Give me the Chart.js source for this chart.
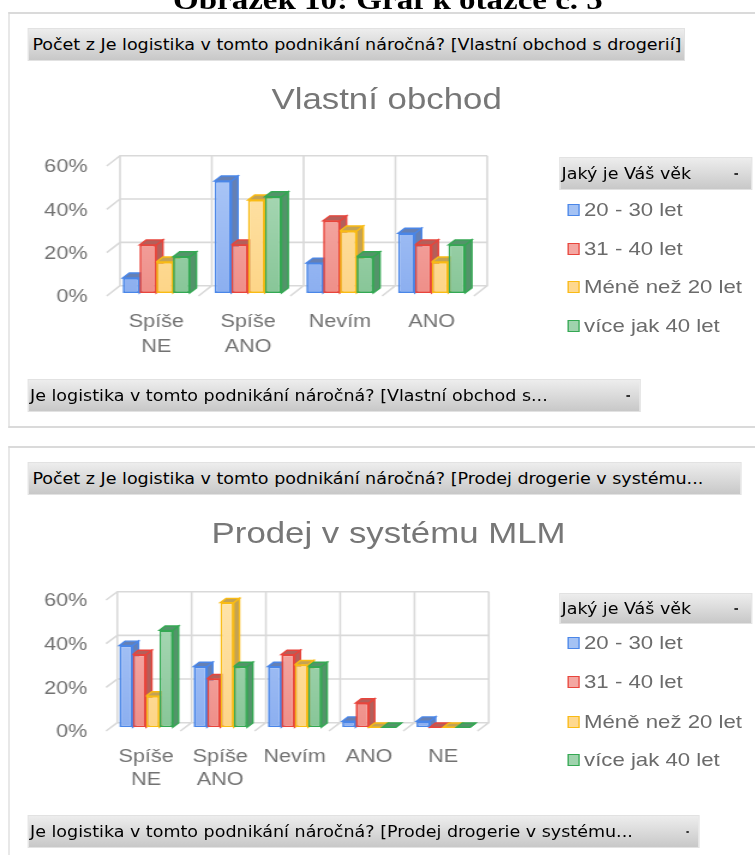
<!DOCTYPE html>
<html>
<head>
<meta charset="utf-8">
<script src="https://cdn.jsdelivr.net/npm/chart.js@4.4.1/dist/chart.umd.min.js"></script>
<style>
html, body { margin: 0; padding: 0; background: #fff; width: 755px; height: 855px; overflow: hidden; }
#page { position: absolute; left: 0; top: 0; width: 629.17px; height: 855px; transform: scaleX(1.2); transform-origin: 0 0; }
.box { position: absolute; left: 6.7px; width: 640px; border: 2px solid #dadada; border-left-width: 1.7px; border-right: none; box-sizing: border-box; }
canvas { position: absolute; left: 0; }
.btn { position: absolute; background: linear-gradient(#ededed, #c8c8c8); border: 1px solid #e2e2e2; box-sizing: border-box; display: flex; align-items: center; overflow: hidden; white-space: nowrap; z-index: 2; }
.btn .t { display: inline-block; font-family: "DejaVu Sans Condensed", "DejaVu Sans", sans-serif; font-size: 16px; color: #000; transform-origin: 0 50%; }
.dot { position: absolute; width: 2.5px; height: 2px; background: #333; z-index: 3; }
.title { position: absolute; font-family: "Liberation Sans", Arial, sans-serif; font-size: 29px; line-height: 29px; color: #777; white-space: nowrap; transform: translateX(-50%); }
#fig { position: absolute; top: -14.5px; left: 323.3px; transform: translateX(-50%); font-family: "Liberation Serif", serif; font-weight: bold; font-size: 27.5px; line-height: 27.5px; white-space: nowrap; color: #000; }
.leg { position: absolute; left: 472.5px; font-family: "Liberation Sans", Arial, sans-serif; font-size: 18.5px; color: #6b6b6b; z-index: 2; white-space: nowrap; }
.leg .sw { position: absolute; left: 0; width: 10px; height: 12px; box-sizing: border-box; border: 1px solid; }
.leg .lab { position: absolute; left: 14.2px; line-height: 20px; }
</style>
</head>
<body>
<div id="page">
  <div id="fig">Obrázek 10: Graf k otázce č. 5</div>

  <div class="box" style="top:11.7px;height:416px"></div>
  <div class="box" style="top:446.3px;height:420px"></div>

  <canvas id="shopChart" width="629" height="414" style="top:13px;width:629px;height:414px"></canvas>
  <canvas id="mlmChart" width="629" height="408" style="top:447px;width:629px;height:408px"></canvas>

  <div class="title" style="left:322.2px;top:84.8px">Vlastní obchod</div>
  <div class="title" style="left:323.8px;top:519.1px">Prodej v systému MLM</div>

  <div class="btn" id="head1" style="left:22.5px;top:28px;width:548.3px;height:33px;padding-left:3px"><span class="t">Počet z Je logistika v tomto podnikání náročná? [Vlastní obchod s drogerií]</span></div>
  <div class="btn" style="left:22.5px;top:379px;width:511.5px;height:33px;padding-left:1px"><span class="t">Je logistika v tomto podnikání náročná? [Vlastní obchod s...</span></div>
  <div class="dot" style="left:522px;top:395px"></div>
  <div class="btn" style="left:465.8px;top:157px;width:160.9px;height:33px;padding-left:1px"><span class="t">Jaký je Váš věk</span></div>
  <div class="dot" style="left:612px;top:173px"></div>

  <div class="btn" style="left:22.5px;top:462px;width:595.5px;height:33px;padding-left:3px"><span class="t">Počet z Je logistika v tomto podnikání náročná? [Prodej drogerie v systému...</span></div>
  <div class="btn" style="left:22.5px;top:815px;width:560.8px;height:33px;padding-left:1px"><span class="t">Je logistika v tomto podnikání náročná? [Prodej drogerie v systému...</span></div>
  <div class="dot" style="left:571.5px;top:831px"></div>
  <div class="btn" style="left:465.8px;top:592.7px;width:160.9px;height:31.6px;padding-left:1px"><span class="t">Jaký je Váš věk</span></div>
  <div class="dot" style="left:612px;top:608px"></div>

  <div id="legend1"></div>
  <div id="legend2"></div>
</div>

<script>
// data (percent of respondents in each age group)
const ageGroups = ['20 - 30 let', '31 - 40 let', 'Méně než 20 let', 'více jak 40 let'];
const yTicks = [0, 20, 40, 60];

const shopLabels = [['Spíše', 'NE'], ['Spíše', 'ANO'], 'Nevím', 'ANO'];
const shop20to30 = [6.9, 51.7, 13.8, 27.6];
const shop31to40 = [22.2, 22.2, 33.3, 22.2];
const shopUnder20 = [14.3, 42.9, 28.6, 14.3];
const shopOver40 = [16.7, 44.4, 16.7, 22.2];

const mlmLabels = [['Spíše', 'NE'], ['Spíše', 'ANO'], 'Nevím', 'ANO', 'NE'];
const mlm20to30 = [37.5, 27.8, 27.8, 2.8, 2.8];
const mlm31to40 = [33.3, 22.2, 33.3, 11.1, 0];
const mlmUnder20 = [14.3, 57.1, 28.6, 0, 0];
const mlmOver40 = [44.4, 27.8, 27.8, 0, 0];

const palette = [
  { border: '#4a86e8', top: '#adc8f7', bottom: '#8caff0', side: '#6580b4', key: '#a4c2f4' },
  { border: '#e8453c', top: '#f6b4b0', bottom: '#ef8f89', side: '#b45f5a', key: '#f4a7a2' },
  { border: '#f9bb14', top: '#fee4ab', bottom: '#fdd588', side: '#c4a253', key: '#fed88f' },
  { border: '#34a853', top: '#aedbba', bottom: '#88c698', side: '#53946a', key: '#9fd3ad' }
];

Chart.defaults.font.family = '"Liberation Sans", Arial, sans-serif';
Chart.defaults.color = '#727272';

function faceFill(p) {
  return (c) => {
    const a = c.chart.chartArea;
    if (!a) return p.bottom;
    const g = c.chart.ctx.createLinearGradient(0, a.top, 0, a.bottom);
    g.addColorStop(0, p.top);
    g.addColorStop(1, p.bottom);
    return g;
  };
}

function poly(ctx, pts) {
  ctx.beginPath();
  ctx.moveTo(pts[0][0], pts[0][1]);
  for (let i = 1; i < pts.length; i++) ctx.lineTo(pts[i][0], pts[i][1]);
  ctx.closePath();
  ctx.fill();
  ctx.stroke();
}

// back wall, side wall and floor lines + the depth of each bar
const depthPlugin = {
  id: 'depth',
  beforeDatasetsDraw(chart, args, o) {
    const { ctx, scales: { x, y } } = chart;
    const n = chart.data.labels.length;
    const step = (x.right - x.left) / n;
    const yTop = y.getPixelForValue(y.max), y0 = y.getPixelForValue(0);
    ctx.save();
    ctx.strokeStyle = '#d9d9d9';
    ctx.lineWidth = 1.6;
    ctx.beginPath();
    y.ticks.forEach(t => {
      const py = y.getPixelForValue(t.value);
      ctx.moveTo(x.left + o.front[0], py + o.front[1]);
      ctx.lineTo(x.left + o.back[0], py + o.back[1]);
      ctx.lineTo(x.right + o.back[0], py + o.back[1]);
    });
    for (let k = 0; k <= n; k++) {
      const px = x.left + k * step;
      ctx.moveTo(px + o.back[0], yTop + o.back[1]);
      ctx.lineTo(px + o.back[0], y0 + o.back[1]);
      ctx.lineTo(px + o.front[0], y0 + o.front[1]);
    }
    ctx.stroke();

    const bars = [];
    chart.data.datasets.forEach((ds, di) => {
      chart.getDatasetMeta(di).data.forEach(bar => bars.push({ bar, p: palette[di] }));
    });
    bars.sort((a, b) => a.bar.x - b.bar.x);
    const [dx, dy] = o.depth;
    ctx.lineWidth = 1.4;
    bars.forEach(({ bar, p }) => {
      const { x: cx, y: top, base, width } = bar.getProps(['x', 'y', 'base', 'width'], true);
      const l = cx - width / 2, r = cx + width / 2;
      ctx.fillStyle = p.side;
      ctx.strokeStyle = p.border;
      poly(ctx, [[r, top], [r + dx, top + dy], [r + dx, base + dy], [r, base]]);
      poly(ctx, [[l, top], [l + dx, top + dy], [r + dx, top + dy], [r, top]]);
    });
    ctx.restore();
  }
};

function makeChart(id, labels, series, opt) {
  return new Chart(document.getElementById(id), {
    type: 'bar',
    data: {
      labels: labels,
      datasets: series.map((values, i) => ({
        label: ageGroups[i],
        data: values,
        backgroundColor: faceFill(palette[i]),
        borderColor: palette[i].border,
        borderWidth: 1.7,
        borderSkipped: false,
        categoryPercentage: opt.catPct,
        barPercentage: 1
      }))
    },
    options: {
      responsive: false,
      animation: false,
      layout: { padding: { top: opt.top, left: 0, right: opt.right, bottom: 0 } },
      plugins: {
        legend: { display: false },
        tooltip: { enabled: false },
        depth: opt.depth
      },
      scales: {
        x: {
          grid: { display: false, drawTicks: false },
          border: { display: false },
          ticks: { font: { size: 18, lineHeight: opt.lineHeight }, padding: opt.xPad, maxRotation: 0, autoSkip: false },
          afterFit: s => { s.height = opt.xHeight; }
        },
        y: {
          min: yTicks[0],
          max: yTicks[yTicks.length - 1],
          grid: { display: false, drawTicks: false },
          border: { display: false },
          afterBuildTicks: s => { s.ticks = yTicks.map(v => ({ value: v })); },
          ticks: { font: { size: 18 }, padding: opt.yPad, labelOffset: opt.yOff, callback: v => v + '%' },
          afterFit: s => { s.width = opt.left; }
        }
      }
    },
    plugins: [depthPlugin]
  });
}

makeChart('shopChart', shopLabels, [shop20to30, shop31to40, shopUnder20, shopOver40], {
  top: 150, left: 91.9, right: 629 - 397.9, xHeight: 134, catPct: 0.73,
  xPad: 16.5, lineHeight: 1.39, yPad: 19, yOff: 4.5,
  depth: { front: [-3, 3], back: [8.1, -7.3], depth: [5.6, -5] }
});

makeChart('mlmChart', mlmLabels, [mlm20to30, mlm31to40, mlmUnder20, mlmOver40], {
  top: 149.3, left: 90.75, right: 629 - 400.3, xHeight: 408 - 280.3, catPct: 0.72,
  xPad: 18, lineHeight: 1.3, yPad: 18, yOff: 5,
  depth: { front: [-2.4, 3.7], back: [7, -4.6], depth: [4.8, -4.3] }
});

// legends (HTML)
function buildLegend(id, centers) {
  const el = document.getElementById(id);
  ageGroups.forEach((name, i) => {
    const row = document.createElement('div');
    row.className = 'leg';
    row.style.top = (centers[i] - 10) + 'px';
    row.innerHTML = '<div class="sw" style="top:4px;background:' + palette[i].key + ';border-color:' + palette[i].border + '"></div>' +
      '<div class="lab">' + name + '</div>';
    el.appendChild(row);
  });
}
buildLegend('legend1', [210, 249, 287, 326]);
buildLegend('legend2', [643, 682, 722, 760]);

// squeeze the field-button font to the reference width
const head = document.querySelector('#head1 .t');
const squeeze = 540.8 / head.getBoundingClientRect().width * 1.2;
document.querySelectorAll('.btn .t').forEach(t => { t.style.transform = 'scaleX(' + squeeze + ')'; });
</script>
</body>
</html>
